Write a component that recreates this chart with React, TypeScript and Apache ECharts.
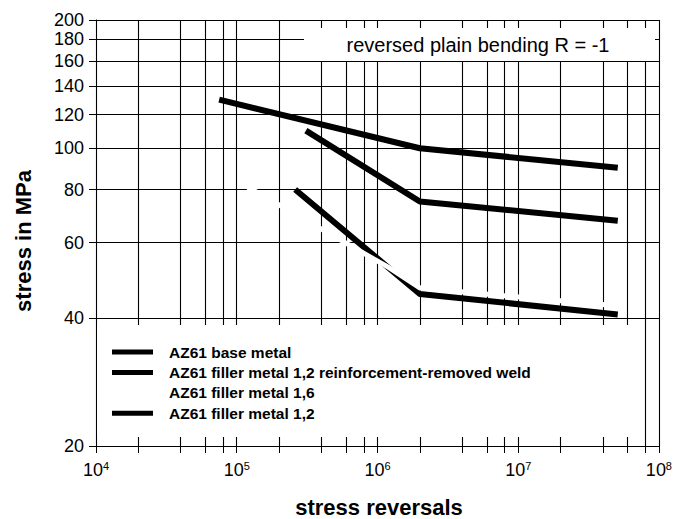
import React, { useEffect, useRef } from "react";
import * as echarts from "echarts";

const xGridValues = [
  1e4, 2e4, 4e4, 6e4, 8e4, 1e5, 2e5, 4e5, 6e5, 8e5, 1e6, 2e6, 4e6, 6e6, 8e6,
  1e7, 2e7, 4e7, 6e7, 8e7, 1e8,
];
const xLabelValues = [1e4, 1e5, 1e6, 1e7, 1e8];
const yTickValues = [20, 40, 60, 80, 100, 120, 140, 160, 180, 200];

const seriesNames = [
  "AZ61 base metal",
  "AZ61 filler metal 1,2 reinforcement-removed weld",
  "AZ61 filler metal 1,6",
  "AZ61 filler metal 1,2",
];
const baseMetal: [number, number][] = [
  [7.5e4, 130],
  [2e6, 100],
  [5.1e7, 90],
];
const reinforcementRemoved: [number, number][] = [
  [3.1e5, 110],
  [2e6, 75],
  [5.1e7, 67.6],
];
const filler16: [number, number][] = [
  [1.2e5, 81],
  [1.2e6, 52.5],
  [2e6, 47],
  [5.2e7, 42.6],
];
const filler12: [number, number][] = [
  [2.6e5, 80],
  [2e6, 45.5],
  [5.1e7, 40.7],
];
const seriesColors = ["#000", "#000", "#fff", "#000"];
const titleText = "reversed plain bending R = -1";

const FONT = '"Liberation Sans", Arial, sans-serif';

export default function App() {
  const ref = useRef<HTMLDivElement>(null);
  useEffect(() => {
    document.body.style.margin = "0";
    const chart = echarts.init(ref.current!, undefined, { renderer: "svg" });
    const datasets = [baseMetal, reinforcementRemoved, filler16, filler12];
    const legendTop = 352;
    const legendStep = 20.4;
    const legendGraphics: any[] = [];
    seriesNames.forEach((n, i) => {
      legendGraphics.push({
        type: "rect",
        z: 11,
        shape: { x: 112, y: legendTop + i * legendStep - 2.5, width: 41, height: 5 },
        style: { fill: seriesColors[i] },
      });
      legendGraphics.push({
        type: "text",
        z: 11,
        x: 169,
        y: legendTop + i * legendStep,
        style: {
          text: n,
          font: `bold 15.5px ${FONT}`,
          fill: "#000",
          verticalAlign: "middle",
          align: "left",
        },
      });
    });
    chart.setOption({
      animation: false,
      backgroundColor: "#fff",
      grid: { left: 96, right: 12, top: 20, bottom: 73 },
      xAxis: {
        type: "log",
        logBase: 10,
        min: 1e4,
        max: 1e8,
        axisLine: { show: true, lineStyle: { color: "#000", width: 1 } },
        axisTick: {
          show: true,
          inside: false,
          length: 7,
          customValues: xGridValues,
          lineStyle: { color: "#000" },
        },
        splitLine: { show: true, lineStyle: { color: "#000", width: 1.1 } },
        minorTick: { show: false },
        axisLabel: {
          customValues: xLabelValues,
          margin: 14,
          color: "#000",
          fontFamily: FONT,
          fontSize: 18,
          formatter: (v: number) => `10{sup|${Math.round(Math.log10(v))}}`,
          rich: {
            sup: { fontSize: 11, fontFamily: FONT, verticalAlign: "top", padding: [0, 0, 8, 0] },
          },
        },
      },
      yAxis: {
        type: "log",
        logBase: 10,
        min: 20,
        max: 200,
        axisLine: { show: true, lineStyle: { color: "#000", width: 1 } },
        axisTick: {
          show: true,
          inside: false,
          length: 7,
          customValues: yTickValues,
          lineStyle: { color: "#000" },
        },
        splitLine: { show: true, lineStyle: { color: "#000", width: 1.1 } },
        axisLabel: {
          customValues: yTickValues,
          margin: 12,
          color: "#000",
          fontFamily: FONT,
          fontSize: 18,
          formatter: (v: number) => String(Math.round(v)),
        },
      },
      series: datasets.map((d, i) => ({
        name: seriesNames[i],
        type: "line",
        data: d,
        symbol: "none",
        z: i === 2 ? 4 : 3,
        lineStyle: { color: seriesColors[i], width: i === 2 ? 5 : 6, cap: "butt", join: "round" },
        emphasis: { disabled: true },
        silent: true,
      })),
      graphic: [
        {
          type: "rect",
          z: 10,
          shape: { x: 304, y: 28, width: 351, height: 33 },
          style: { fill: "#fff" },
        },
        {
          type: "text",
          z: 11,
          x: 478,
          y: 45,
          style: {
            text: titleText,
            font: `20px ${FONT}`,
            fill: "#000",
            align: "center",
            verticalAlign: "middle",
          },
        },
        {
          type: "rect",
          z: 10,
          shape: { x: 97, y: 325, width: 543, height: 112 },
          style: { fill: "#fff" },
        },
        ...legendGraphics,
        {
          type: "text",
          z: 11,
          x: 23,
          y: 241,
          rotation: Math.PI / 2,
          style: {
            text: "stress in MPa",
            font: `bold 22px ${FONT}`,
            fill: "#000",
            align: "center",
            verticalAlign: "middle",
          },
        },
        {
          type: "text",
          z: 11,
          x: 379,
          y: 507,
          style: {
            text: "stress reversals",
            font: `bold 22px ${FONT}`,
            fill: "#000",
            align: "center",
            verticalAlign: "middle",
          },
        },
      ],
    });
    return () => chart.dispose();
  }, []);
  return <div ref={ref} style={{ width: 675, height: 519 }} />;
}
